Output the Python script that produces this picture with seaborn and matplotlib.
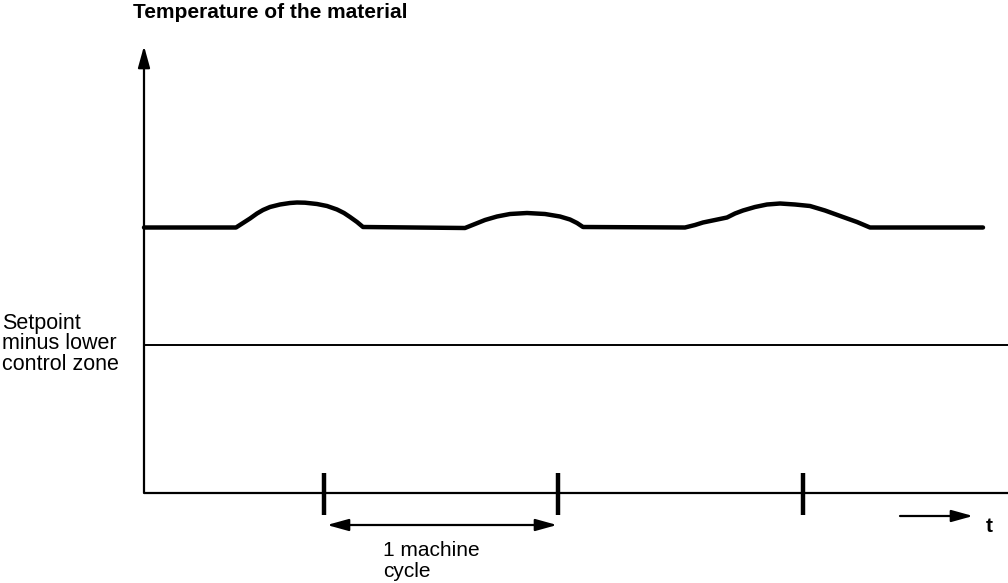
import matplotlib
matplotlib.use("Agg")
import matplotlib.pyplot as plt
import seaborn as sns
import pandas as pd

# ---- data (time in px-like units from the y axis, temperature above the time axis) ----
time_pts = [0, 92, 99, 106, 113, 119, 126, 136, 146, 153, 161, 173, 183, 193, 200, 206, 213, 219,
            321, 331, 341, 353, 366, 383, 401, 416, 426, 433, 439,
            541, 551, 559, 571, 583, 591, 599, 611, 623, 636, 651, 666, 681, 699, 713, 726,
            839]
temp_pts = [265.5, 265.5, 270, 274.5, 279.5, 283, 286, 288.5, 290, 290.5, 290.3, 289, 287, 283.5, 280, 276, 271, 266,
            265, 269, 273, 276.5, 279, 280, 279, 276.5, 273.5, 270, 266,
            265.5, 268, 270.5, 273, 275.5, 279.5, 282.5, 286, 288.5, 289.5, 288.5, 287, 282.5, 276, 271, 265.5,
            265.5]
setpoint_level = 148
cycle_ticks = [180, 414, 659]

title_text = "Temperature of the material"
setpoint_label = "Setpoint\nminus lower\ncontrol zone"
cycle_label = "1 machine\ncycle"
time_label = "t"

sns.set_theme(style="white")
plt.rcParams['font.family'] = ['Liberation Sans', 'DejaVu Sans']
plt.rcParams['text.color'] = 'black'

fig = plt.figure(figsize=(10.08, 5.83), dpi=100)
ax = fig.add_axes([0, 0, 1, 1])
ax.set_xlim(-144, 864)
ax.set_ylim(-90, 493)
ax.axis("off")

df = pd.DataFrame({"time": time_pts, "temp": temp_pts})
sns.lineplot(data=df, x="time", y="temp", ax=ax, color="black", linewidth=3.2,
             sort=False, estimator=None, solid_joinstyle="round", solid_capstyle="round")

# axes (time axis and temperature axis with arrow)
ax.plot([0, 864], [0, 0], color="black", linewidth=1.6, solid_capstyle="butt")
arrow_kw = dict(color="black", linewidth=1.6, mutation_scale=20, shrinkA=0, shrinkB=0)
ax.annotate("", xy=(0, 447), xytext=(0, 0),
            arrowprops=dict(arrowstyle="-|>,head_length=0.65,head_width=0.18", **arrow_kw))

# setpoint line
ax.plot([0, 864], [setpoint_level, setpoint_level], color="black", linewidth=1.4,
        solid_capstyle="butt")

# cycle tick marks
ax.vlines(cycle_ticks, -22, 20, color="black", linewidth=3.2)

# machine-cycle double arrow
ax.annotate("", xy=(cycle_ticks[1] - 1, -32), xytext=(cycle_ticks[0] + 3, -32),
            arrowprops=dict(arrowstyle="<|-|>,head_length=0.65,head_width=0.18", **arrow_kw))

# time arrow
ax.annotate("", xy=(829, -23), xytext=(756, -23),
            arrowprops=dict(arrowstyle="-|>,head_length=0.65,head_width=0.18", **arrow_kw))

# texts
ax.text(-11, 475, title_text, ha="left", va="baseline", fontsize=15,
        fontweight="bold", color="black")
ax.text(-142, 123, setpoint_label, ha="left", va="baseline", fontsize=15.5,
        linespacing=0.98, color="black")
ax.text(239, -84, cycle_label, ha="left", va="baseline", fontsize=15,
        linespacing=1.15, color="black")
ax.text(842, -39, time_label, ha="left", va="baseline", fontsize=15,
        fontweight="bold", color="black")

fig.savefig("out.png", dpi=100)
